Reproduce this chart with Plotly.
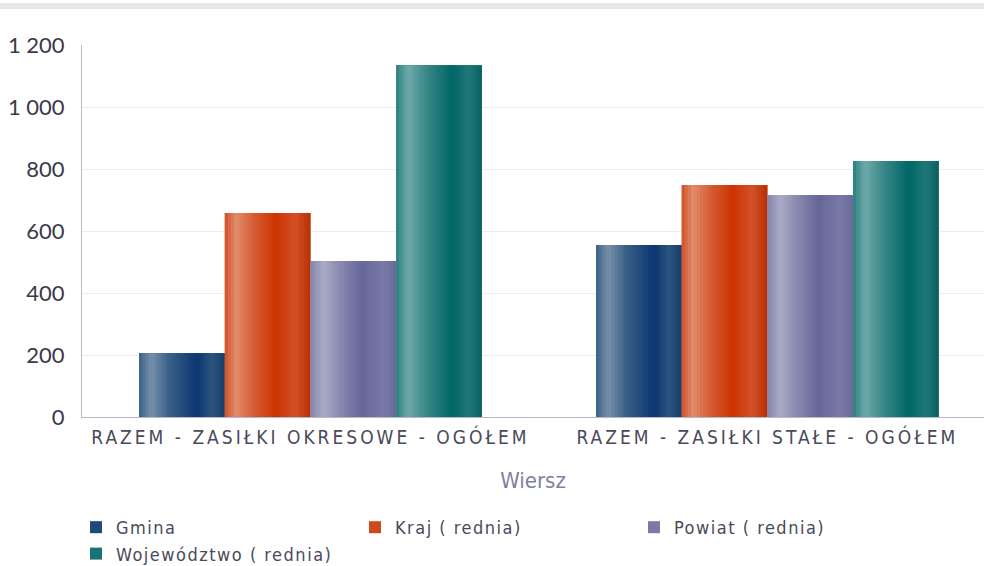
import plotly.graph_objects as go

categories = ["RAZEM - ZASIŁKI OKRESOWE - OGÓŁEM", "RAZEM - ZASIŁKI STAŁE - OGÓŁEM"]
series_names = ["Gmina", "Kraj ( rednia)", "Powiat ( rednia)", "Województwo ( rednia)"]
gmina = [206, 555]
kraj = [658, 748]
powiat = [503, 716]
wojewodztwo = [1135, 826]
y_ticks = [0, 200, 400, 600, 800, 1000, 1200]

series_values = [gmina, kraj, powiat, wojewodztwo]

base_colors = ["#1f4a7a", "#cc4a1e", "#7a7aa6", "#1a7373"]
gradients = [
    [(0.0, "#3a6088"), (0.14, "#7890aa"), (0.35, "#3a6088"), (0.68, "#0a3570"), (0.85, "#2c5580"), (1.0, "#163c68")],
    [(0.0, "#d05028"), (0.13, "#e08c6c"), (0.35, "#d65a32"), (0.6, "#cc3300"), (0.82, "#d4502a"), (1.0, "#b83000")],
    [(0.0, "#8484aa"), (0.15, "#aaaac8"), (0.35, "#8888b0"), (0.6, "#666699"), (0.85, "#7a7aa8"), (1.0, "#6a6a9a")],
    [(0.0, "#2a8080"), (0.14, "#70aaaa"), (0.35, "#3a8888"), (0.65, "#006666"), (0.85, "#207878"), (1.0, "#0a6060")],
]

NARROW = "Liberation Sans Narrow, Arial Narrow, DejaVu Sans Condensed, sans-serif"


def hex2rgb(h):
    h = h.lstrip("#")
    return tuple(int(h[i:i + 2], 16) for i in (0, 2, 4))


def interp(stops, t):
    for (p0, c0), (p1, c1) in zip(stops[:-1], stops[1:]):
        if p0 <= t <= p1:
            f = 0 if p1 == p0 else (t - p0) / (p1 - p0)
            a, b = hex2rgb(c0), hex2rgb(c1)
            return "rgb(%d,%d,%d)" % tuple(round(a[i] + (b[i] - a[i]) * f) for i in range(3))
    return stops[-1][1]


def spaced(s, px):
    return '<span style="letter-spacing:%spx">%s</span>' % (px, s)


group_width = 0.75
n = len(series_names)
bw = group_width / n
strips = 28
sw = bw / strips

fig = go.Figure()
for i, (name, vals) in enumerate(zip(series_names, series_values)):
    off = -group_width / 2 + i * bw
    fig.add_trace(go.Bar(
        x=categories, y=vals, name=spaced(name, 1.5), width=bw, offset=off,
        marker=dict(color=base_colors[i], line=dict(width=0)),
    ))
    for k in range(strips):
        t = (k + 0.5) / strips
        w = sw * 1.6 if k < strips - 1 else sw
        fig.add_trace(go.Bar(
            x=categories, y=vals, width=w, offset=off + k * sw,
            marker=dict(color=interp(gradients[i], t), line=dict(width=0)),
            showlegend=False, hoverinfo="skip",
        ))

fig.update_layout(
    width=984, height=566,
    margin=dict(l=82, r=0, t=45, b=149, autoexpand=False),
    barmode="overlay",
    paper_bgcolor="white", plot_bgcolor="white",
    font=dict(family="Lato, Open Sans, sans-serif", color="#4a4a5a"),
    separators=". ",
    showlegend=True,
    legend=dict(
        orientation="h", x=-6 / 902, xanchor="left",
        y=(417 - 509) / 372, yanchor="top",
        entrywidth=234, entrywidthmode="pixels", itemwidth=30,
        font=dict(size=18, color="#4a4a5a", family=NARROW),
        traceorder="normal", tracegroupgap=0,
    ),
    shapes=[dict(type="rect", xref="paper", yref="paper",
                 x0=-82 / 902, x1=1, y0=(417 - 3) / 372, y1=(417 - 9) / 372,
                 fillcolor="#e6e6ea", line=dict(width=0), layer="below")],
)
fig.update_xaxes(
    range=[-0.5, 1.474], showgrid=False, automargin=False,
    showline=True, linecolor="#b8b8cc", linewidth=1,
    tickvals=categories, ticktext=[spaced(c, 3) for c in categories],
    tickfont=dict(size=19, color="#4a4a5a", family=NARROW),
    ticklabelstandoff=3,
    title=dict(text="Wiersz", font=dict(size=22, color="#8080a0", family=NARROW), standoff=25),
    ticks="",
)
fig.update_yaxes(
    range=[0, 1200], tickvals=y_ticks, separatethousands=True, automargin=False,
    showgrid=True, gridcolor="#ececf2", gridwidth=1,
    showline=True, linecolor="#b8b8cc", linewidth=1,
    zeroline=False,
    tickfont=dict(size=22, color="#3a3a4a"),
    ticklabelstandoff=12,
    ticks="", ticklen=0,
)

fig.write_html("out.html", config={"displayModeBar": False},
               post_script="document.body.style.margin='0';")
